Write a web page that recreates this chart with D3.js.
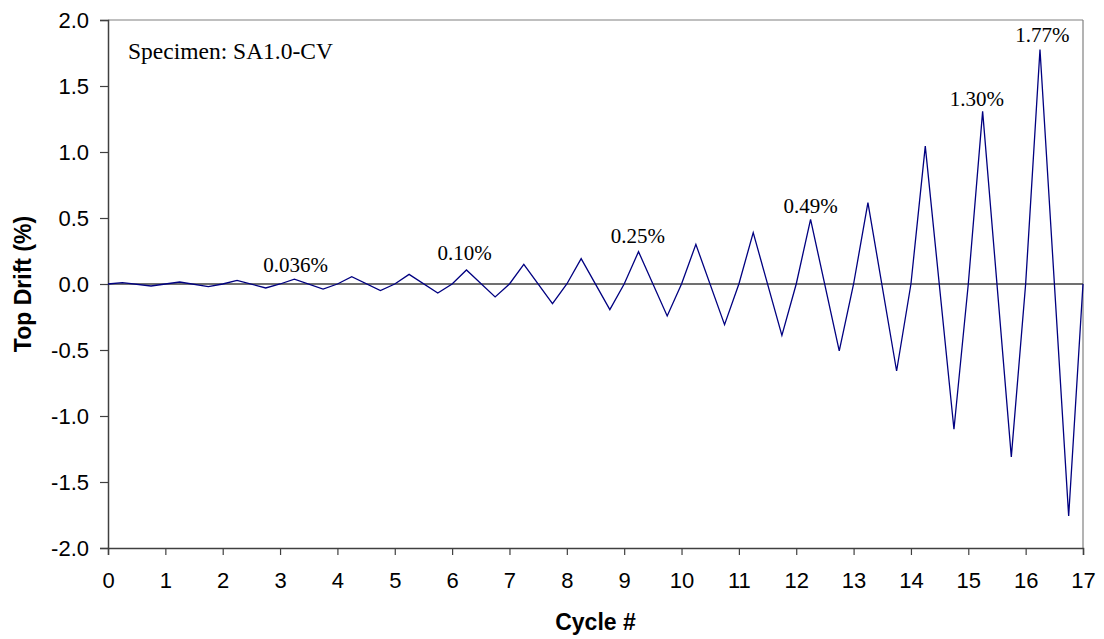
<!DOCTYPE html>
<html>
<head>
<meta charset="utf-8">
<script src="https://cdn.jsdelivr.net/npm/d3@7"></script>
<style>
  html, body { margin: 0; padding: 0; background: #fff; }
  svg { display: block; }
</style>
</head>
<body>
<svg id="chart" width="1104" height="639"></svg>
<script>
// ---- data ----
const cycles = [0, 1, 2, 3, 4, 5, 6, 7, 8, 9, 10, 11, 12, 13, 14, 15, 16];
const peakDrift = [0.010, 0.015, 0.028, 0.036, 0.056, 0.073, 0.106, 0.149, 0.192, 0.245, 0.300, 0.389, 0.490, 0.617, 1.045, 1.308, 1.776];
const troughDrift = [-0.015, -0.020, -0.030, -0.038, -0.050, -0.068, -0.098, -0.149, -0.194, -0.242, -0.308, -0.389, -0.507, -0.659, -1.100, -1.310, -1.758];
const xTicks = [0, 1, 2, 3, 4, 5, 6, 7, 8, 9, 10, 11, 12, 13, 14, 15, 16, 17];
const yTicks = [-2.0, -1.5, -1.0, -0.5, 0.0, 0.5, 1.0, 1.5, 2.0];
const annText = ["0.036%", "0.10%", "0.25%", "0.49%", "1.30%", "1.77%"];
const annX = [3.27, 6.22, 9.24, 12.25, 15.15, 16.29];
const annY = [0.088, 0.18, 0.31, 0.535, 1.346, 1.833];
const specimenLabel = "Specimen: SA1.0-CV";
const xTitle = "Cycle #";
const yTitle = "Top Drift (%)";

// build the drift history: zero at start of each cycle, peak at +1/4, trough at +3/4
const history = [];
cycles.forEach((c, i) => {
  history.push({ x: c, y: 0 });
  history.push({ x: c + 0.25, y: peakDrift[i] });
  history.push({ x: c + 0.75, y: troughDrift[i] });
});
history.push({ x: 17, y: 0 });

// ---- layout ----
const svg = d3.select("#chart");
const L = 108, R = 1083, T = 20, B = 548;
const x = d3.scaleLinear().domain([0, 17]).range([L, R]);
const y = d3.scaleLinear().domain([-2, 2]).range([B, T]);

const sans = "Arial, 'Liberation Sans', Helvetica, sans-serif";
const serif = "'Times New Roman', 'Liberation Serif', Times, serif";

// frame (top and right)
svg.append("line").attr("x1", L).attr("x2", R).attr("y1", T).attr("y2", T)
  .attr("stroke", "#808080").attr("stroke-width", 1.2);
svg.append("line").attr("x1", R).attr("x2", R).attr("y1", T).attr("y2", B)
  .attr("stroke", "#808080").attr("stroke-width", 1.2);

// zero line
svg.append("line").attr("x1", L).attr("x2", R).attr("y1", y(0)).attr("y2", y(0))
  .attr("stroke", "#404040").attr("stroke-width", 1.3);

// axes
const xAxis = d3.axisBottom(x).tickValues(xTicks).tickFormat(d3.format("d"))
  .tickSize(7).tickPadding(17);
const yAxis = d3.axisLeft(y).tickValues(yTicks).tickFormat(d3.format(".1f"))
  .tickSize(8).tickPadding(11);

const gx = svg.append("g").attr("transform", `translate(0,${B})`).call(xAxis);
const gy = svg.append("g").attr("transform", `translate(${L},0)`).call(yAxis);
[gx, gy].forEach(g => {
  g.select(".domain").attr("stroke", "#404040").attr("stroke-width", 1.5);
  g.selectAll(".tick line").attr("stroke", "#404040").attr("stroke-width", 1.2);
  g.selectAll(".tick text").attr("fill", "#000")
    .style("font-family", sans).style("font-size", "22px");
});
gy.selectAll(".tick text").text(d => d3.format(".1f")(d).replace("−", "-"));

// line
svg.append("path").datum(history)
  .attr("fill", "none").attr("stroke", "#000080").attr("stroke-width", 1.3)
  .attr("stroke-linejoin", "miter")
  .attr("d", d3.line().x(d => x(d.x)).y(d => y(d.y)));

// annotations
svg.append("g").selectAll("text").data(annText).join("text")
  .attr("x", (d, i) => x(annX[i])).attr("y", (d, i) => y(annY[i]))
  .attr("text-anchor", "middle")
  .style("font-family", serif).style("font-size", "21px").attr("fill", "#000")
  .text(d => d);

svg.append("text").attr("x", 128).attr("y", 59)
  .style("font-family", serif).style("font-size", "23.5px").attr("fill", "#000")
  .text(specimenLabel);

// axis titles
svg.append("text").attr("x", (L + R) / 2).attr("y", 630)
  .attr("text-anchor", "middle")
  .style("font-family", sans).style("font-size", "23px").style("font-weight", "bold")
  .text(xTitle);
svg.append("text")
  .attr("transform", `translate(31,${(T + B) / 2}) rotate(-90)`)
  .attr("text-anchor", "middle")
  .style("font-family", sans).style("font-size", "23px").style("font-weight", "bold")
  .text(yTitle);
</script>
</body>
</html>
